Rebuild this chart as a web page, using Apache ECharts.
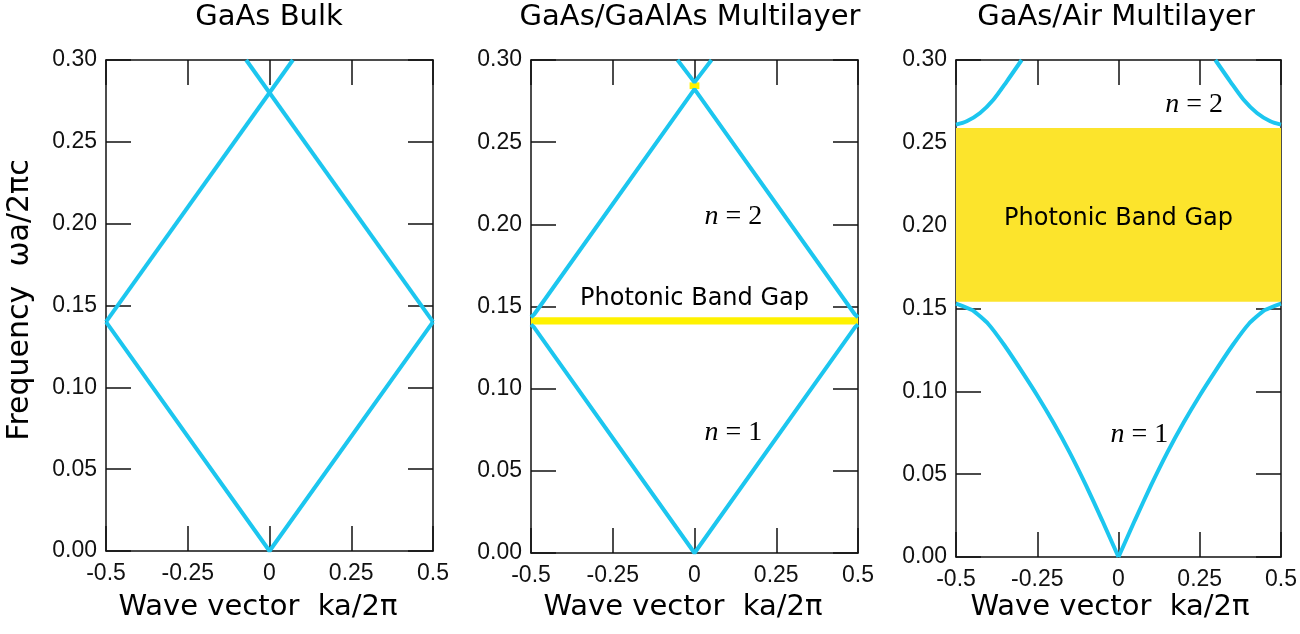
<!DOCTYPE html>
<html>
<head>
<meta charset="utf-8">
<script src="https://cdn.jsdelivr.net/npm/echarts@6/dist/echarts.min.js"></script>
<style>html,body{margin:0;padding:0;background:#fff}#c{width:1300px;height:634px}</style>
</head>
<body>
<div id="c"></div>
<script>
// ---- tick labels ----
const xTickLabels = ['-0.5', '-0.25', '0', '0.25', '0.5'];
const yTickLabels = ['0.00', '0.05', '0.10', '0.15', '0.20', '0.25', '0.30'];

// ---- panel titles / axis titles ----
const panelTitles = ['GaAs Bulk', 'GaAs/GaAlAs Multilayer', 'GaAs/Air Multilayer'];
const xAxisTitle = 'Wave vector  ka/2\u03C0';
const yAxisTitle = 'Frequency  \u03C9a/2\u03C0c';

// ---- GaAs bulk (folded light line) ----
const bulkBand1 = [[-0.5, 0.14], [0, 0], [0.5, 0.14]];
const bulkBand2a = [[-0.5, 0.14], [0.0714, 0.30]];
const bulkBand2b = [[0.5, 0.14], [-0.0714, 0.30]];

// ---- GaAs/GaAlAs multilayer ----
const mlBand1 = [[-0.5, 0.139], [-0.49, 0.1372], [0, 0], [0.49, 0.1372], [0.5, 0.139]];
const mlBand2 = [[-0.5, 0.1435], [-0.49, 0.1453], [0, 0.2823], [0.49, 0.1453], [0.5, 0.1435]];
const mlBand3 = [[-0.052, 0.30], [0, 0.2864], [0.052, 0.30]];
const mlGap1 = [0.139, 0.1435];
const mlGap2 = [0.2823, 0.2864];
const mlGap2K = [-0.015, 0.015];

// ---- GaAs/Air multilayer ----
const airBand1Left = [[-0.5, 0.153], [-0.45, 0.149], [-0.4, 0.1405], [-0.35, 0.1275], [-0.3, 0.1128],
  [-0.25, 0.0975], [-0.2, 0.081], [-0.15, 0.063], [-0.1, 0.0432], [-0.05, 0.022], [0, 0]];
const airBand1Right = [[0, 0], [0.05, 0.022], [0.1, 0.0432], [0.15, 0.063], [0.2, 0.081],
  [0.25, 0.0975], [0.3, 0.1128], [0.35, 0.1275], [0.4, 0.1405], [0.45, 0.149], [0.5, 0.153]];
const airBand2Left = [[-0.5, 0.261], [-0.467, 0.263], [-0.426, 0.268], [-0.385, 0.276], [-0.344, 0.287], [-0.298, 0.30]];
const airBand2Right = [[0.298, 0.30], [0.344, 0.287], [0.385, 0.276], [0.426, 0.268], [0.467, 0.263], [0.5, 0.261]];
const airGap = [0.154, 0.259];

// ---- annotations (data coords) ----
const mlGapLabelPos = [0, 0.155];
const mlN2Pos = [0.119, 0.2045];
const mlN1Pos = [0.119, 0.073];
const airGapLabelPos = [0, 0.204];
const airN2Pos = [0.233, 0.273];
const airN1Pos = [0.064, 0.074];

const CYAN = '#1cc6ef';
const AXC = '#111';
const SANS = 'DejaVu Sans';

const grids = [
  {left: 106, top: 60, width: 327, height: 491},
  {left: 531, top: 60, width: 327, height: 493},
  {left: 956, top: 60, width: 325, height: 497}
];

function xAx(gi, pos) {
  return {
    type: 'value', gridIndex: gi, min: -0.5, max: 0.5, interval: 0.25, position: pos,
    axisLine: {show: true, onZero: false, lineStyle: {color: AXC, width: 1.5}},
    axisTick: {show: true, inside: true, length: 25, lineStyle: {color: AXC, width: 1.5}},
    axisLabel: {show: pos === 'bottom', margin: 11, fontSize: 23, color: AXC, fontFamily: 'Liberation Sans',
      showMinLabel: true, showMaxLabel: true,
      formatter: v => xTickLabels[Math.round((v + 0.5) / 0.25)]},
    splitLine: {show: false}
  };
}
function yAx(gi, pos) {
  return {
    type: 'value', gridIndex: gi, min: 0, max: 0.3, interval: 0.05, position: pos,
    axisLine: {show: true, onZero: false, lineStyle: {color: AXC, width: 1.5}},
    axisTick: {show: true, inside: true, length: 25, lineStyle: {color: AXC, width: 1.5}},
    axisLabel: {show: pos === 'left', margin: 9, fontSize: 23, color: AXC, fontFamily: 'Liberation Sans',
      showMinLabel: true, showMaxLabel: true,
      formatter: v => yTickLabels[Math.round(v / 0.05)]},
    splitLine: {show: false}
  };
}

const xAxes = [], yAxes = [];
for (let i = 0; i < 3; i++) {
  xAxes.push(xAx(i, 'bottom'));
  yAxes.push(yAx(i, 'left'));
}
for (let i = 0; i < 3; i++) {
  xAxes.push(xAx(i, 'top'));
  yAxes.push(yAx(i, 'right'));
}

function line(gi, data, extra) {
  return Object.assign({
    type: 'line', xAxisIndex: gi, yAxisIndex: gi, data: data, showSymbol: false, symbol: 'none',
    lineStyle: {color: CYAN, width: 4}, z: 5, animation: false, silent: true
  }, extra || {});
}

const gapLabel = {fontFamily: SANS, fontSize: 24, color: '#000'};
function nLabel(num) {
  return {
    show: true, position: 'inside',
    formatter: '{i|n}{r| = ' + num + '}',
    rich: {
      i: {fontFamily: 'Liberation Serif', fontStyle: 'italic', fontSize: 28, color: '#000'},
      r: {fontFamily: 'Liberation Serif', fontSize: 28, color: '#000'}
    }
  };
}
function textPoint(coord, label) {
  return {coord: coord, symbol: 'circle', symbolSize: 0, label: label};
}

const series = [
  line(0, bulkBand1),
  line(0, bulkBand2a),
  line(0, bulkBand2b),

  line(1, mlBand1, {
    markArea: {silent: true, itemStyle: {color: '#fff200'}, data: [
      [{xAxis: -0.5, yAxis: mlGap1[0]}, {xAxis: 0.5, yAxis: mlGap1[1]}],
      [{xAxis: mlGap2K[0], yAxis: mlGap2[0]}, {xAxis: mlGap2K[1], yAxis: mlGap2[1]}]
    ]},
    markPoint: {silent: true, data: [
      textPoint(mlGapLabelPos, Object.assign({show: true, position: 'inside', formatter: 'Photonic Band Gap'}, gapLabel)),
      textPoint(mlN2Pos, nLabel(2)),
      textPoint(mlN1Pos, nLabel(1))
    ]}
  }),
  line(1, mlBand2),
  line(1, mlBand3),

  line(2, airBand1Left, {smooth: 0.2,
    markArea: {silent: true, itemStyle: {color: '#fce42c'}, data: [
      [{xAxis: -0.5, yAxis: airGap[0]}, {xAxis: 0.5, yAxis: airGap[1]}]
    ]},
    markPoint: {silent: true, data: [
      textPoint(airGapLabelPos, Object.assign({show: true, position: 'inside', formatter: 'Photonic Band Gap'}, gapLabel)),
      textPoint(airN2Pos, nLabel(2)),
      textPoint(airN1Pos, nLabel(1))
    ]}
  }),
  line(2, airBand1Right, {smooth: 0.2}),
  line(2, airBand2Left, {smooth: 0.3}),
  line(2, airBand2Right, {smooth: 0.3})
];

const titleCenters = [269, 690, 1116];
const xTitleCenters = [258, 683, 1110];
const graphic = [];
for (let i = 0; i < 3; i++) {
  graphic.push({type: 'text', x: titleCenters[i], y: 17, style: {text: panelTitles[i], align: 'center', verticalAlign: 'middle',
    fontFamily: SANS, fontSize: 29, fill: '#000'}});
  graphic.push({type: 'text', x: xTitleCenters[i], y: 607, style: {text: xAxisTitle, align: 'center', verticalAlign: 'middle',
    fontFamily: SANS, fontSize: 29, fill: '#000'}});
}
graphic.push({type: 'text', x: 20, y: 300, rotation: Math.PI / 2, style: {text: yAxisTitle, align: 'center', verticalAlign: 'middle',
  fontFamily: SANS, fontSize: 30, fill: '#000'}});

const chart = echarts.init(document.getElementById('c'));
chart.setOption({
  animation: false,
  backgroundColor: '#fff',
  grid: grids,
  xAxis: xAxes,
  yAxis: yAxes,
  series: series,
  graphic: graphic
});
</script>
</body>
</html>
